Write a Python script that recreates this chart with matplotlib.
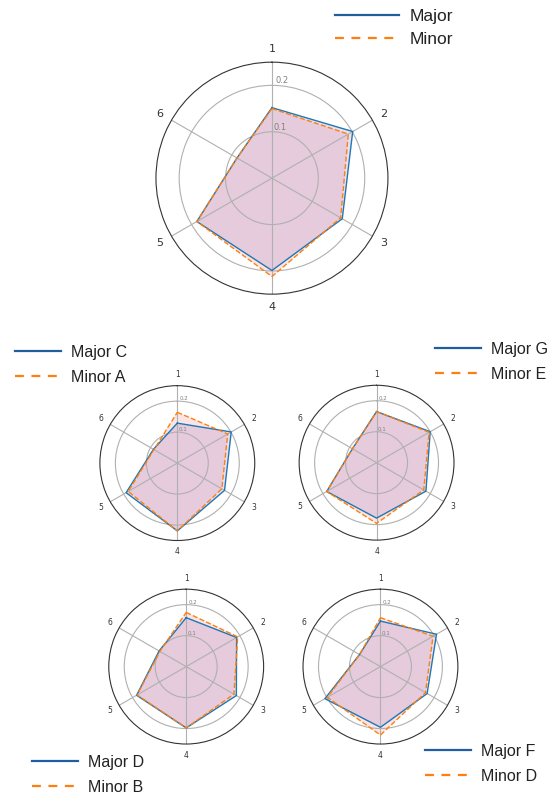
import numpy as np
import matplotlib.pyplot as plt
from matplotlib.lines import Line2D

# категории (оси радара)
categories = ["1", "2", "3", "4", "5", "6"]

# значения по графикам: (мажор, минор)
main_major = [0.152, 0.201, 0.175, 0.199, 0.187, 0.087]
main_minor = [0.150, 0.190, 0.171, 0.212, 0.187, 0.087]

c_major = [0.129, 0.201, 0.176, 0.219, 0.191, 0.089]
a_minor = [0.164, 0.188, 0.166, 0.219, 0.183, 0.087]

g_major = [0.165, 0.200, 0.184, 0.179, 0.186, 0.090]
e_minor = [0.165, 0.196, 0.176, 0.196, 0.186, 0.090]

d_major = [0.158, 0.188, 0.187, 0.198, 0.185, 0.101]
b_minor = [0.175, 0.192, 0.178, 0.198, 0.183, 0.098]

f_major = [0.147, 0.209, 0.174, 0.196, 0.207, 0.078]
d_minor = [0.158, 0.196, 0.168, 0.221, 0.198, 0.078]

angles = np.linspace(0, 2 * np.pi, len(categories), endpoint=False)


def radar(ax, major, minor, label_size, rlabel_size, pad):
    ang = np.concatenate([angles, angles[:1]])
    mj = np.concatenate([major, major[:1]])
    mn = np.concatenate([minor, minor[:1]])
    ax.set_theta_offset(np.pi / 2)
    ax.set_theta_direction(-1)
    ax.fill(ang, mn, color="C3", alpha=0.12, lw=0)
    ax.fill(ang, mj, color="C4", alpha=0.2, lw=0)
    ax.plot(ang, mj, color="C0", lw=1.0)
    ax.plot(ang, mn, color="C1", lw=1.0, ls="--")
    ax.set_xticks(angles)
    ax.set_xticklabels(categories, fontsize=label_size, color="#333333")
    ax.tick_params(axis="x", pad=pad)
    ax.set_ylim(0, 0.25)
    ax.set_yticks([0.1, 0.2])
    ax.set_yticklabels(["0.1", "0.2"], fontsize=rlabel_size, color="grey")
    ax.set_rlabel_position(2)
    ax.spines["polar"].set_color("#333333")


def add_legend(fig, x, y, names, hlen, size, spacing):
    handles = [Line2D([], [], color="#1f5f9f", lw=1.6),
               Line2D([], [], color="C1", lw=1.6, ls=(0, (4, 3.4)))]
    fig.legend(handles, names, loc="upper left", bbox_to_anchor=(x, y),
               frameon=False, handlelength=hlen, handletextpad=0.6,
               prop={"family": "Liberation Sans", "size": size},
               borderpad=0, borderaxespad=0, labelspacing=spacing, labelcolor="#222222")


fig = plt.figure(figsize=(5.55, 7.95), dpi=100)

ax_main = fig.add_axes([0.281, 0.630, 0.418, 0.2918], polar=True)
radar(ax_main, main_major, main_minor, 8, 6, -1)

ax_tl = fig.add_axes([0.180, 0.320, 0.279, 0.195], polar=True)
radar(ax_tl, c_major, a_minor, 5.5, 4, -2.5)

ax_tr = fig.add_axes([0.539, 0.3205, 0.279, 0.195], polar=True)
radar(ax_tr, g_major, e_minor, 5.5, 4, -2.5)

ax_bl = fig.add_axes([0.196, 0.064, 0.279, 0.195], polar=True)
radar(ax_bl, d_major, b_minor, 5.5, 4, -2.5)

ax_br = fig.add_axes([0.546, 0.064, 0.279, 0.195], polar=True)
radar(ax_br, f_major, d_minor, 5.5, 4, -2.5)

add_legend(fig, 335 / 555, 1 - 9 / 795, ["Major", "Minor"], 3.7, 12.5, 0.42)
add_legend(fig, 15 / 555, 1 - 345 / 795, ["Major C", "Minor A"], 2.9, 11.5, 0.6)
add_legend(fig, 435 / 555, 1 - 342 / 795, ["Major G", "Minor E"], 2.9, 11.5, 0.6)
add_legend(fig, 32 / 555, 1 - 755 / 795, ["Major D", "Minor B"], 2.9, 11.5, 0.6)
add_legend(fig, 425 / 555, 1 - 744 / 795, ["Major F", "Minor D"], 2.9, 11.5, 0.6)

plt.savefig("out.png", dpi=100)
